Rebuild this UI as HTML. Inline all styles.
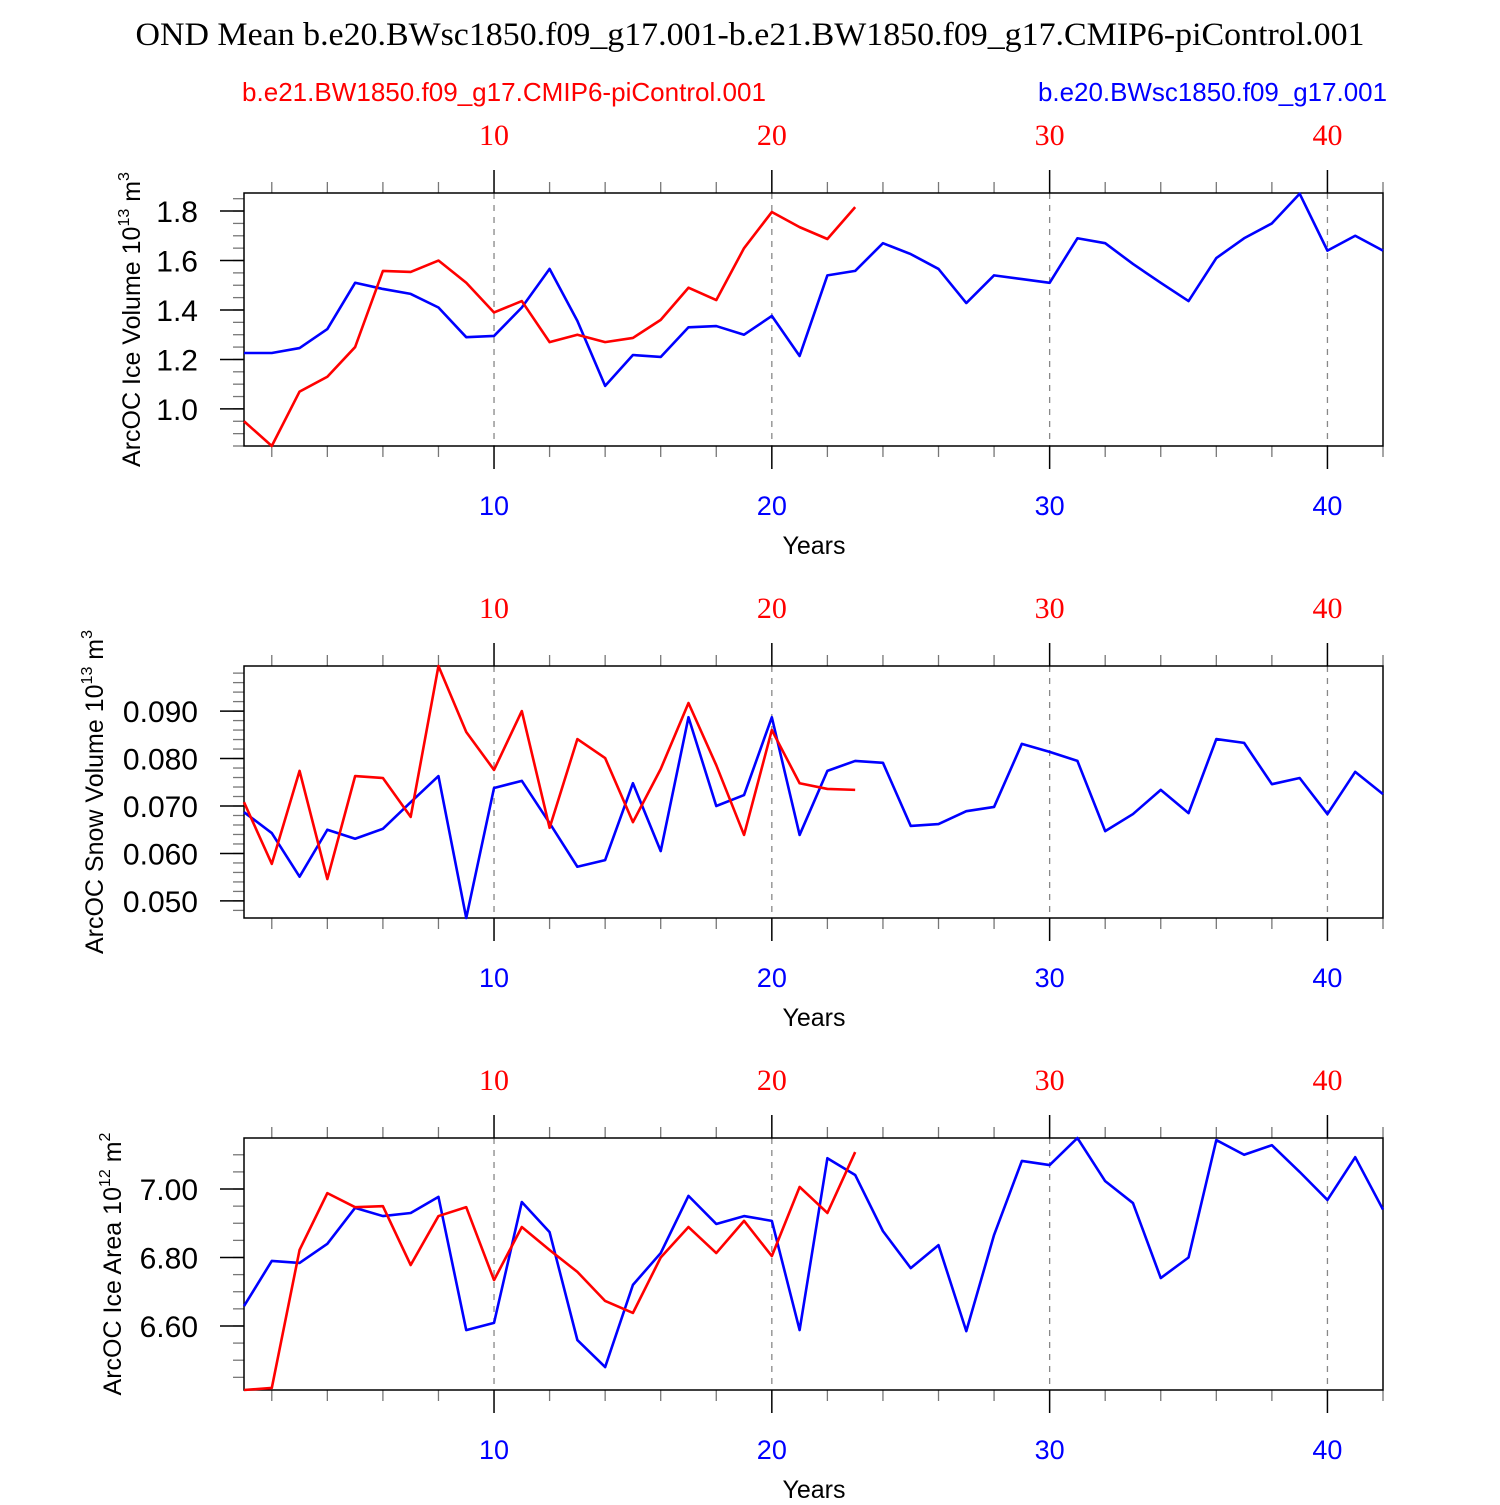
<!DOCTYPE html>
<html><head><meta charset="utf-8"><style>
body{margin:0;background:#fff}
svg text{font-family:"Liberation Sans",sans-serif}
</style></head><body>
<svg id="chart" width="1500" height="1500" xmlns="http://www.w3.org/2000/svg">
<text x="750" y="45" text-anchor="middle" font-size="30" textLength="1229" lengthAdjust="spacingAndGlyphs" style="font-family:'Liberation Serif',serif;font-size:33px">OND Mean b.e20.BWsc1850.f09_g17.001-b.e21.BW1850.f09_g17.CMIP6-piControl.001</text>
<text x="242" y="101" font-size="26" fill="#f00" textLength="524" lengthAdjust="spacingAndGlyphs">b.e21.BW1850.f09_g17.CMIP6-piControl.001</text>
<text x="1038" y="101" font-size="26" fill="#00f" textLength="349" lengthAdjust="spacingAndGlyphs">b.e20.BWsc1850.f09_g17.001</text>
</svg>
<script>
const iceVolBlue=[1.226,1.226,1.246,1.323,1.51,1.485,1.465,1.41,1.29,1.295,1.41,1.566,1.356,1.093,1.218,1.21,1.33,1.335,1.30,1.376,1.214,1.54,1.558,1.67,1.626,1.566,1.428,1.54,1.525,1.51,1.69,1.67,1.586,1.51,1.436,1.61,1.69,1.75,1.87,1.64,1.70,1.64];
const iceVolRed=[0.95,0.85,1.07,1.13,1.25,1.558,1.554,1.60,1.51,1.39,1.436,1.27,1.30,1.27,1.287,1.36,1.49,1.44,1.65,1.796,1.735,1.687,1.816];
const snowBlue=[0.0687,0.0643,0.0551,0.065,0.0631,0.0652,0.0708,0.0763,0.0464,0.0738,0.0753,0.0664,0.0572,0.0586,0.0748,0.0605,0.0887,0.070,0.0723,0.0887,0.0639,0.0774,0.0795,0.0791,0.0658,0.0662,0.0689,0.0698,0.0831,0.0814,0.0795,0.0647,0.0683,0.0734,0.0685,0.0841,0.0833,0.0746,0.0759,0.0683,0.0772,0.0725];
const snowRed=[0.0708,0.0578,0.0774,0.0546,0.0763,0.0759,0.0677,0.0995,0.0856,0.0776,0.090,0.0654,0.0841,0.0801,0.0666,0.0778,0.0917,0.0786,0.0639,0.086,0.0748,0.0736,0.0734];
const areaBlue=[6.658,6.79,6.784,6.84,6.945,6.921,6.93,6.977,6.588,6.609,6.962,6.874,6.559,6.48,6.72,6.813,6.98,6.898,6.921,6.907,6.588,7.09,7.041,6.877,6.769,6.836,6.585,6.866,7.082,7.07,7.149,7.023,6.959,6.74,6.80,7.143,7.10,7.128,7.05,6.968,7.093,6.94];
const areaRed=[6.413,6.419,6.822,6.988,6.947,6.95,6.778,6.921,6.947,6.734,6.889,6.822,6.758,6.673,6.638,6.80,6.889,6.813,6.907,6.804,7.006,6.93,7.108];
const xTicks=[10,20,30,40];
const ticks1=["1.0","1.2","1.4","1.6","1.8"];
const ticks2=["0.050","0.060","0.070","0.080","0.090"];
const ticks3=["6.60","6.80","7.00"];

const NS="http://www.w3.org/2000/svg";
const svg=document.getElementById('chart');
function mk(tag,attrs,parent){const e=document.createElementNS(NS,tag);for(const k in attrs)e.setAttribute(k,attrs[k]);(parent||svg).appendChild(e);return e;}
const X0=244,X1=1383,XMIN=1,XMAX=42;
const xs=v=>X0+(v-XMIN)*(X1-X0)/(XMAX-XMIN);

function panel(name,top,bot,ymin,ymax,ticks,minorStep,blue,red,ylabel){
  const g=mk('g',{});
  
  
  const ys=v=>bot-(v-ymin)*(bot-top)/(ymax-ymin);
  xTicks.forEach(t=>{const l=mk('line',{x1:xs(t),x2:xs(t),y1:top,y2:bot,stroke:'#888','stroke-width':1.3,'stroke-dasharray':'6,6'},g);
    });
  for(let yr=2;yr<=42;yr+=2){const maj=yr%10===0;const len=maj?23:11;
    mk('line',{x1:xs(yr),x2:xs(yr),y1:top,y2:top-len,stroke:maj?'#000':'#777','stroke-width':maj?1.5:1.3},g);
    mk('line',{x1:xs(yr),x2:xs(yr),y1:bot,y2:bot+len,stroke:maj?'#000':'#777','stroke-width':maj?1.5:1.3},g);}
  xTicks.forEach(t=>{
    const a=mk('text',{x:xs(t),y:top-48,'text-anchor':'middle','font-size':30,fill:'#f00',style:"font-family:'Liberation Serif',serif"},g);a.textContent=t;
    
    const b=mk('text',{x:xs(t),y:bot+69,'text-anchor':'middle','font-size':27,fill:'#00f'},g);b.textContent=t;
    });
  const k0=Math.ceil(ymin/minorStep-1e-6),k1=Math.floor(ymax/minorStep+1e-6);
  for(let k=k0;k<=k1;k++){const v=k*minorStep;mk('line',{x1:X0,x2:X0-11,y1:ys(v),y2:ys(v),stroke:'#777','stroke-width':1.3},g);}
  ticks.forEach(t=>{const v=parseFloat(t);
    mk('line',{x1:X0,x2:X0-24,y1:ys(v),y2:ys(v),stroke:'#000','stroke-width':1.5},g);
    const tx=mk('text',{x:X0-46,y:ys(v)+11,'text-anchor':'end','font-size':30},g);tx.textContent=t;
    });
  const fr=mk('rect',{x:X0,y:top,width:X1-X0,height:bot-top,fill:'none',stroke:'#000','stroke-width':1.5},g);
  
  [[blue,'#00f','blue-series'],[red,'#f00','red-series']].forEach(([d,c,n])=>{
    const p=mk('polyline',{points:d.map((v,i)=>xs(i+1)+','+ys(v)).join(' '),fill:'none',stroke:c,'stroke-width':2.6,'stroke-linejoin':'round'},g);
    });
  const xl=mk('text',{x:814,y:bot+108,'text-anchor':'middle','font-size':25},g);xl.textContent='Years';
  
  const cy=(top+bot)/2;const lx=ylabel.x;
  const yl=mk('text',{transform:`translate(${lx},${cy}) rotate(-90)`,'text-anchor':'middle','font-size':25},g);
  yl.innerHTML=ylabel.text+' 10<tspan dy="-11" font-size="16">'+ylabel.exp+'</tspan><tspan dy="11"> m</tspan><tspan dy="-11" font-size="16">'+ylabel.u+'</tspan>';
  
}
panel('ice-volume',193,446,0.85,1.873,ticks1,0.05,iceVolBlue,iceVolRed,{x:140,text:'ArcOC Ice Volume',exp:'13',u:'3'});
panel('snow-volume',666,918,0.0464,0.0995,ticks2,0.002,snowBlue,snowRed,{x:103,text:'ArcOC Snow Volume',exp:'13',u:'3'});
panel('ice-area',1138,1390,6.413,7.149,ticks3,0.05,areaBlue,areaRed,{x:121,text:'ArcOC Ice Area',exp:'12',u:'2'});
</script>
</body></html>
